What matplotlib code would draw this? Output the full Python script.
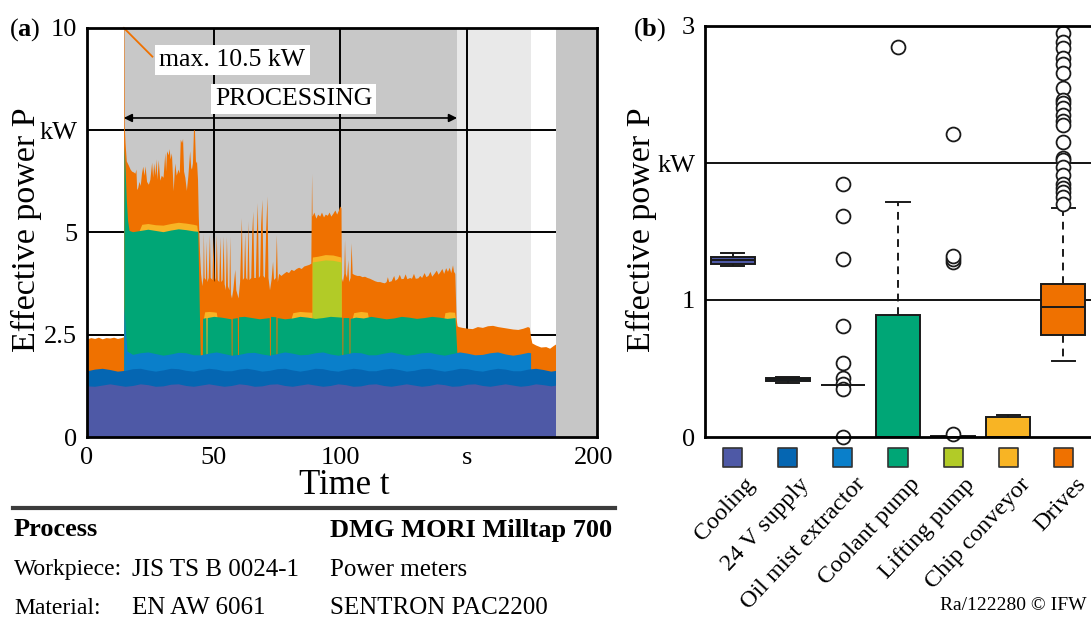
import numpy as np
import matplotlib
matplotlib.use('Agg')
import matplotlib.pyplot as plt
from matplotlib.transforms import blended_transform_factory
from matplotlib.lines import Line2D

plt.rcParams['font.family'] = ['Liberation Serif', 'DejaVu Serif']
plt.rcParams['mathtext.fontset'] = 'custom'
plt.rcParams['mathtext.rm'] = 'Liberation Serif'
plt.rcParams['mathtext.bf'] = 'Liberation Serif:bold'

# ---------------- panel (a): upper boundary of each stacked layer (t [s], P [kW]) -------------
cooling_top = [(0,1.25),(3,1.24),(6,1.27),(9,1.30),(12,1.27),(15,1.24),(18,1.26),(21,1.30),(24,1.28),(27,1.24),
               (30,1.25),(33,1.29),(36,1.30),(39,1.26),(42,1.24),(45,1.27),(48,1.30),(51,1.27),(54,1.24),(57,1.26),
               (60,1.30),(63,1.28),(66,1.24),(69,1.25),(72,1.29),(75,1.30),(78,1.26),(81,1.24),(84,1.27),(87,1.30),
               (90,1.27),(93,1.24),(96,1.26),(99,1.30),(102,1.28),(105,1.24),(108,1.25),(111,1.29),(114,1.30),(117,1.26),
               (120,1.24),(123,1.27),(126,1.30),(129,1.27),(132,1.24),(135,1.26),(138,1.30),(141,1.28),(144,1.24),(147,1.25),
               (150,1.29),(153,1.30),(156,1.26),(159,1.24),(162,1.27),(165,1.30),(168,1.27),(171,1.24),(174,1.26),(177,1.30),
               (180,1.28),(183,1.25),(185,1.27)]
supply24_top = [(0,1.62),(3,1.66),(6,1.68),(9,1.65),(12,1.61),(15,1.63),(18,1.67),(21,1.68),(24,1.64),(27,1.61),
                (30,1.64),(33,1.68),(36,1.67),(39,1.63),(42,1.61),(45,1.65),(48,1.68),(51,1.66),(54,1.62),(57,1.62),
                (60,1.66),(63,1.68),(66,1.65),(69,1.61),(72,1.63),(75,1.67),(78,1.68),(81,1.64),(84,1.61),(87,1.64),
                (90,1.68),(93,1.67),(96,1.63),(99,1.61),(102,1.65),(105,1.68),(108,1.66),(111,1.62),(114,1.62),(117,1.66),
                (120,1.68),(123,1.65),(126,1.61),(129,1.63),(132,1.67),(135,1.68),(138,1.64),(141,1.61),(144,1.64),(147,1.68),
                (150,1.67),(153,1.63),(156,1.61),(159,1.65),(162,1.68),(165,1.66),(168,1.62),(171,1.62),(174,1.66),(177,1.68),
                (180,1.65),(183,1.61),(185,1.63)]
oilmist_top = [(14.5,1.64),(14.6,3.2),(15.1,2.6),(15.8,2.1),(18,2.02),(21,2.06),(24,2.08),(27,2.04),(30,2.00),(33,2.03),
               (36,2.07),(39,2.06),(42,2.01),(45,2.01),(48,2.05),(51,2.08),(54,2.04),(57,2.00),(60,2.02),(63,2.06),
               (66,2.07),(69,2.03),(72,2.00),(75,2.04),(78,2.08),(81,2.05),(84,2.01),(87,2.02),(90,2.06),(93,2.08),
               (96,2.03),(99,2.00),(102,2.03),(105,2.07),(108,2.06),(111,2.01),(114,2.01),(117,2.05),(120,2.08),(123,2.04),
               (126,2.00),(129,2.02),(132,2.06),(135,2.07),(138,2.03),(141,2.00),(144,2.04),(147,2.08),(150,2.05),(153,2.01),
               (156,2.02),(159,2.06),(162,2.08),(165,2.03),(168,2.00),(171,2.03),(174,2.07),(175,2.06)]
coolant_top = [(14.5,2.0),(14.6,7.1),(15.0,6.6),(15.5,5.8),(16.0,5.3),(16.6,5.05),(18,5.02),(21,5.05),(24,5.08),(27,5.05),
               (30,5.02),(33,5.06),(36,5.09),(39,5.07),(42,5.04),(43.7,5.03),(44.7,1.9),(45.5,1.9),(45.6,2.90),(46.9,2.92),
               (47.0,1.9),(47.3,1.9),(47.4,2.92),(50,2.95),(53,2.93),(56.8,2.89),(56.9,1.9),(57.2,1.9),(57.3,2.90),(59.3,2.92),
               (59.4,1.9),(59.7,1.9),(59.8,2.94),(62,2.95),(65,2.92),(68,2.89),(71.9,2.92),(72.0,1.9),(72.3,1.9),(72.4,2.95),
               (74.5,2.94),(74.6,1.9),(74.9,1.9),(75.0,2.92),(78,2.89),(81,2.91),(84,2.95),(87,2.93),(90,2.90),(93,2.92),
               (96,2.95),(100.5,2.93),(100.6,1.9),(100.9,1.9),(101.0,2.92),(103.3,2.92),(103.4,1.9),(103.7,1.9),(103.8,2.90),(106,2.93),
               (109,2.91),(112,2.95),(115,2.92),(118,2.89),(121,2.91),(124,2.95),(127,2.93),(130,2.90),(133,2.92),(136,2.95),
               (139,2.93),(142,2.90),(145.2,2.92),(146.0,1.95)]
lifting_top = [(88.8,2.94),(88.85,4.28),(91,4.30),(94,4.33),(97,4.32),(100.2,4.28),(100.3,2.93)]
chip_top_segments = [
    [(20.6,5.05),(21.6,5.20),(24,5.22),(27,5.19),(30,5.18),(33,5.22),(36,5.25),(39,5.23),(42,5.20),(43.3,5.18),(43.6,5.03)],
    [(46.0,2.92),(46.4,3.06),(48,3.07),(50,3.06),(51.0,3.05),(51.3,2.93)],
    [(80.5,2.90),(81.2,3.04),(84,3.07),(86,3.06),(88.8,3.05)],
    [(88.8,4.28),(88.9,4.40),(91,4.42),(94,4.46),(97,4.45),(100.2,4.40),(100.3,4.28)],
    [(104.6,2.90),(105.2,3.04),(108,3.07),(110.6,3.05),(111.0,2.92)],
    [(140.8,2.90),(141.2,3.04),(143,3.06),(145.0,3.05),(145.3,2.92)],
]
drives_top = [
    (0,2.40),(1.5,2.43),(3,2.41),(4.5,2.44),(6,2.40),(7.5,2.43),(9,2.42),(10.5,2.44),(12,2.41),(13.5,2.43),(14.40,2.45),
    (14.45,10.5),(14.62,10.5),(14.7,7.6),(15.0,7.2),(15.5,6.75),(16.3,6.65),(17.0,6.55),(17.6,6.50),(18.3,6.48),(18.9,6.45),
    (19.3,6.55),(19.6,6.05),(20.0,6.10),(20.5,6.25),(21.0,6.15),(21.5,6.45),(22.0,6.62),(22.5,6.40),(22.9,6.63),(23.5,6.25),
    (24.2,6.18),(24.8,6.30),(25.5,6.72),(25.9,6.35),(26.3,6.70),(26.8,6.40),(27.2,6.80),(27.6,6.30),(28.1,6.78),(28.7,6.28),
    (29.3,6.40),(30.0,6.35),(30.7,6.95),(31.0,6.50),(31.4,7.00),(32.0,6.90),(32.4,7.05),(32.8,6.80),(33.3,6.95),(34.0,6.02),
    (34.6,6.70),(35.2,6.40),(35.9,6.55),(36.4,6.45),(36.8,7.28),(37.3,7.20),(37.7,7.30),(38.1,6.50),(38.6,6.35),(39.2,6.03),
    (39.8,6.40),(40.5,7.00),(40.9,6.60),(41.2,6.55),(41.6,6.70),(42.0,7.52),(42.4,7.50),(42.8,6.70),(43.2,6.75),(43.6,6.30),
    (43.9,5.40),(44.4,4.50),(44.8,4.00),(45.3,3.70),(45.7,3.90),(45.9,5.00),(46.2,3.90),(46.7,3.85),(47.0,4.80),(47.3,3.80),
    (47.8,3.90),(48.3,4.95),(48.6,3.90),(49.3,3.85),(49.7,4.90),(50.1,3.80),(50.6,3.90),(51.0,4.95),(51.4,3.85),(52.0,3.80),
    (52.4,4.90),(52.8,3.80),(53.3,3.85),(53.7,4.92),(54.1,3.75),(54.6,3.60),(55.0,4.90),(55.4,3.70),(56.0,3.60),(56.3,4.91),
    (56.6,3.50),(57.0,3.40),(57.5,3.60),(58.3,4.10),(58.7,3.60),(59.6,3.40),(60.2,3.80),(60.9,5.36),(61.3,3.85),(61.8,3.90),
    (62.2,5.00),(62.6,3.90),(63.1,3.85),(63.5,5.28),(63.9,3.85),(64.6,3.90),(65.0,5.00),(65.4,5.52),(65.8,3.90),(66.4,3.90),
    (66.8,5.00),(67.2,5.73),(67.6,3.90),(68.1,3.95),(68.5,5.20),(69.0,5.81),(69.4,3.95),(70.0,3.90),(70.5,5.10),(71.0,5.89),
    (71.4,3.90),(72.0,3.60),(72.6,3.85),(73.2,4.30),(73.6,3.85),(74.3,3.90),(74.7,4.95),(75.1,3.80),(75.6,4.00),(76.5,3.95),
    (77.5,4.00),(78.6,4.05),(79.5,4.02),(80.5,4.10),(81.5,4.07),(82.5,4.12),(83.5,4.15),(84.5,4.12),(85.5,4.18),(86.5,4.20),
    (87.5,4.22),(88.3,4.25),(88.6,6.45),(88.8,5.40),(89.5,5.50),(90.3,5.35),(91.0,5.45),(91.8,5.40),(92.5,5.50),(93.3,5.38),
    (94.0,5.45),(94.8,5.42),(95.5,5.50),(96.2,5.40),(97.0,5.47),(97.8,5.55),(98.5,5.45),(99.2,5.55),(99.7,5.65),(100.2,5.60),
    (100.35,3.90),(100.8,3.80),(101.3,4.00),(101.6,4.83),(101.9,4.00),(102.4,3.90),(102.9,4.34),(103.2,3.80),(103.8,3.90),(104.2,4.75),
    (104.6,4.00),(105.5,3.97),(106.5,3.95),(107.5,3.95),(108.5,3.92),(109.5,3.93),(110.5,3.90),(111.5,3.88),(112.5,3.85),(113.5,3.82),
    (114.5,3.80),(115.5,3.80),(116.5,3.78),(117.3,3.77),(118.0,3.80),(118.5,3.92),(119.0,3.80),(120.0,3.82),(121.0,3.95),(121.5,3.83),
    (122.5,3.88),(123.2,3.98),(123.9,3.87),(124.8,3.88),(125.5,3.99),(126.2,3.87),(127.3,3.90),(128.0,3.88),(128.8,4.00),(129.5,3.88),
    (130.5,3.89),(131.3,3.95),(132.0,3.90),(133.0,4.02),(133.7,3.92),(134.5,3.95),(135.3,4.05),(136.0,3.93),(137.0,4.01),(137.8,4.08),
    (138.5,3.98),(139.3,4.05),(140.0,4.12),(140.7,4.00),(141.5,4.14),(142.2,4.05),(142.9,4.15),(143.5,4.02),(144.2,4.21),(144.6,4.05),
    (145.1,4.00),(145.6,2.90),(146.0,2.72),(146.5,2.70),(148,2.68),(150,2.66),(152,2.65),(154,2.70),(156,2.68),(158,2.72),
    (160,2.73),(162,2.70),(164,2.68),(166,2.66),(168,2.64),(170,2.63),(172,2.66),(173.8,2.70),(174.5,2.68),(175.0,2.45),
    (175.5,2.30),(177,2.25),(179,2.20),(181,2.21),(182.5,2.17),(184,2.24),(185,2.28)]

# machine phases (s)
processing_span = (14.5, 146.0)
post_span = (146.0, 175.0)
off_span = (185.0, 201.2)
max_time, max_power = 14.55, 10.0

xticks_a = [0, 50, 100, 150, 200]
xticklabels_a = ['0', '50', '100', 's', '200']
yticks_a = [0, 2.5, 5, 7.5, 10]
yticklabels_a = ['0', '2.5', '5', 'kW', '10']

# ---------------- panel (b): box-plot statistics (kW) ----------------
categories = ['Cooling', '24 V supply', 'Oil mist extractor', 'Coolant pump',
              'Lifting pump', 'Chip conveyor', 'Drives']
colors = ['#4e59a6', '#0566b2', '#0a7fca', '#00a676', '#b2cb27', '#f8b424', '#ef7100']
q1 = [1.26, 0.41, 0.38, 0.0, 0.0, 0.0, 0.745]
med = [1.29, 0.42, 0.38, 0.0, 0.0, 0.0, 0.947]
q3 = [1.314, 0.43, 0.38, 0.89, 0.005, 0.146, 1.117]
whislo = [1.25, 0.394, 0.38, 0.0, 0.0, 0.0, 0.555]
whishi = [1.34, 0.44, 0.38, 1.715, 0.005, 0.16, 1.67]
fliers = [[], [],
          [1.85, 1.61, 1.30, 0.81, 0.54, 0.43, 0.39, 0.35, 0.0],
          [2.85],
          [0.02, 1.28, 1.30, 1.32, 2.21],
          [],
          [2.95, 2.88, 2.84, 2.77, 2.72, 2.66, 2.55, 2.46, 2.44, 2.40, 2.35, 2.31, 2.28,
           2.15, 2.04, 2.02, 1.97, 1.91, 1.85, 1.82, 1.79, 1.75, 1.70]]
yticks_b = [0, 1, 2, 3]
yticklabels_b = ['0', '1', 'kW', '3']

W, H = 1091, 622
fig = plt.figure(figsize=(W / 100, H / 100), dpi=100)

def fx(px):
    return px / W

def fy(py):
    return 1 - py / H

# ===================== panel (a) =====================
axa = fig.add_axes([fx(87), fy(437), fx(597) - fx(87), fy(28) - fy(437)])
axa.set_xlim(0, 201.2)
axa.set_ylim(0, 10)
axa.axvspan(*processing_span, color='#c8c8c8', lw=0, zorder=0)
axa.axvspan(*post_span, color='#e9e9e9', lw=0, zorder=0)
for v in [2.5, 5, 7.5]:
    axa.axhline(v, color='black', lw=1.4, zorder=0.5)
for v in [50, 100, 150]:
    axa.axvline(v, color='black', lw=1.4, zorder=0.5)

def fill_layer(ax, pts, color, z):
    t = [p[0] for p in pts]
    v = [p[1] for p in pts]
    ax.fill_between(t, 0, v, color=color, lw=0, zorder=z)

fill_layer(axa, drives_top, colors[6], 1.0)
for seg in chip_top_segments:
    fill_layer(axa, seg, colors[5], 1.1)
fill_layer(axa, lifting_top, colors[4], 1.2)
fill_layer(axa, coolant_top, colors[3], 1.3)
fill_layer(axa, oilmist_top, colors[2], 1.4)
fill_layer(axa, supply24_top, colors[1], 1.5)
fill_layer(axa, cooling_top, colors[0], 1.6)
axa.axvspan(*off_span, color='#c6c6c6', lw=0, zorder=2)

axa.set_xticks(xticks_a)
axa.set_xticklabels(xticklabels_a)
axa.set_yticks(yticks_a)
axa.set_yticklabels(yticklabels_a)
axa.tick_params(length=0, labelsize=19, pad=7)
for s in axa.spines.values():
    s.set_linewidth(2)
    s.set_zorder(5)

# annotations
axa.plot([max_time, 25.8], [max_power, 9.30], color=colors[6], lw=1.3, zorder=3, clip_on=False)
axa.text(28.6, 9.22, 'max. 10.5 kW', fontsize=18.5, ha='left', va='center', zorder=4,
         bbox=dict(facecolor='white', edgecolor='none', pad=3))
axa.text(81.5, 8.26, 'PROCESSING', fontsize=18.5, ha='center', va='center', zorder=4,
         bbox=dict(facecolor='white', edgecolor='none', pad=3))
axa.annotate('', xy=(processing_span[0], 7.80), xytext=(processing_span[1], 7.80),
             arrowprops=dict(arrowstyle='<|-|>', color='black', lw=1.2, mutation_scale=12,
                             shrinkA=0, shrinkB=0), zorder=4)

# ===================== panel (b) =====================
axb = fig.add_axes([fx(705), fy(437), fx(1091) - fx(705), fy(26) - fy(437)])
axb.set_xlim(0.5, 7.5)
axb.set_ylim(0, 3)
for v in [1, 2]:
    axb.axhline(v, color='black', lw=1.3, zorder=0.5)
positions = list(range(1, len(categories) + 1))
stats = []
for i in range(len(categories)):
    stats.append(dict(med=med[i], q1=q1[i], q3=q3[i], whislo=whislo[i], whishi=whishi[i],
                      fliers=fliers[i], label=categories[i]))
bp = axb.bxp(stats, positions=positions, widths=0.8, capwidths=0.42, patch_artist=True,
             manage_ticks=False,
             boxprops=dict(edgecolor='#1a1a1a', linewidth=1.4),
             whiskerprops=dict(color='#1a1a1a', linewidth=1.4, linestyle=(0, (4, 3))),
             capprops=dict(color='#1a1a1a', linewidth=1.4),
             medianprops=dict(color='#1a1a1a', linewidth=1.4),
             flierprops=dict(marker='o', markerfacecolor='white', markeredgecolor='#1a1a1a',
                             markersize=10, markeredgewidth=1.3))
for patch, c in zip(bp['boxes'], colors):
    patch.set_facecolor(c)
for art in bp['fliers']:
    art.set_clip_on(False)

axb.set_xticks([])
axb.set_yticks(yticks_b)
axb.set_yticklabels(yticklabels_b)
axb.tick_params(length=0, labelsize=19, pad=7)
axb.spines['right'].set_visible(False)
for s in axb.spines.values():
    s.set_linewidth(2)
    s.set_zorder(5)

trans = blended_transform_factory(axb.transData, axb.transAxes)
axb.scatter(positions, [-0.049] * len(positions), marker='s', s=19 ** 2 * 0.52,
            c=colors, edgecolors='#333333', linewidths=1.2, transform=trans, clip_on=False, zorder=5)
for p, lab in zip(positions, categories):
    axb.text(p + 0.2, -0.09, lab, transform=trans, rotation=47, rotation_mode='anchor',
             ha='right', va='top', fontsize=17.5)

# ===================== figure texts =====================
fig.text(fx(25), fy(30), r'($\mathbf{a}$)', fontsize=19, ha='center', va='center')
fig.text(fx(650), fy(30), r'($\mathbf{b}$)', fontsize=19, ha='center', va='center')
fig.text(fx(26), fy(230), 'Effective power P', fontsize=24.5, rotation=90, ha='center', va='center')
fig.text(fx(641), fy(230), 'Effective power P', fontsize=24.5, rotation=90, ha='center', va='center')
fig.text(fx(344), fy(485), 'Time t', fontsize=25, ha='center', va='center')

fig.add_artist(Line2D([fx(13), fx(615)], [fy(508), fy(508)], color='#3c3c3c', lw=3))
rows = [(530, 'Process', '', 'DMG MORI Milltap 700', 'bold', 19, 19),
        (570, 'Workpiece:', 'JIS TS B 0024-1', 'Power meters', 'normal', 17, 18),
        (608, 'Material:', 'EN AW 6061', 'SENTRON PAC2200', 'normal', 17, 18)]
for y, c1, c2, c3, w, fs1, fs in rows:
    fig.text(fx(14), fy(y), c1, fontsize=fs1, ha='left', va='center', weight=w)
    fig.text(fx(132), fy(y), c2, fontsize=fs, ha='left', va='center', weight=w)
    fig.text(fx(330), fy(y), c3, fontsize=fs, ha='left', va='center', weight=w)
fig.text(fx(1087), fy(606), 'Ra/122280 © IFW', fontsize=14, ha='right', va='center')

fig.savefig('out.png', dpi=100)
